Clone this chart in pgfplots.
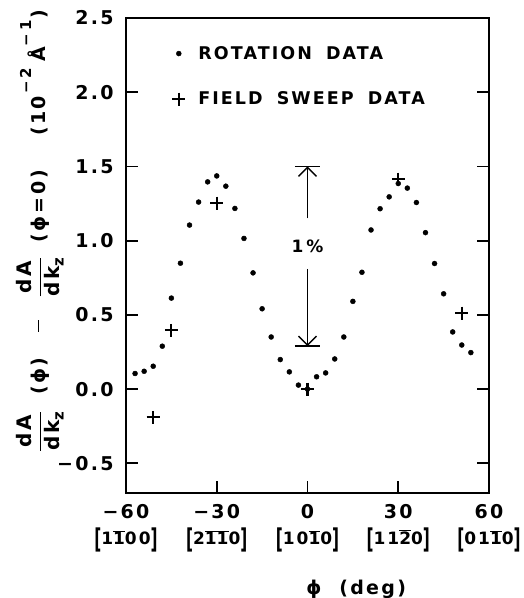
\documentclass[border=0pt]{standalone}
\usepackage{fontspec}
\setmainfont{DejaVu Sans}
\newfontfamily\lbl{DejaVu Sans}[LetterSpace=12]
\newfontfamily\lgd{DejaVu Sans}[LetterSpace=12]
\usepackage{graphicx}
\usepackage{pgfplots}
\pgfplotsset{compat=1.18}
\usetikzlibrary{arrows.meta}
\newcommand\ob[1]{\ensuremath{\overline{\hbox{#1}}}}
\newcommand\bk[1]{\raisebox{-0.25em}{\scalebox{0.9}[1.6]{#1}}}
\newcommand\mil[1]{{\fontsize{17bp}{20bp}\selectfont\bk{[}#1\bk{]}}}
\newcommand\dadk{\ensuremath{\displaystyle\frac{\hbox{\fontsize{20bp}{20bp}\selectfont dA}}{\hbox{\fontsize{20bp}{20bp}\selectfont dk\raisebox{-0.2em}{\fontsize{15bp}{15bp}\selectfont z}}}}}
\newcommand\sups[1]{\raisebox{0.75em}{\fontsize{15bp}{15bp}\selectfont #1}}
\begin{document}
\begin{tikzpicture}
\begin{axis}[
  scale only axis,
  width=363bp, height=475bp,
  xmin=-60, xmax=60, ymin=-0.7, ymax=2.5,
  axis line style={line width=1.8bp},
  tick align=inside,
  major tick length=12bp,
  major tick style={line width=1.8bp, black},
  xtick pos=lower,
  xtick={-60,-30,0,30,60},
  xticklabels={
    {−60\\[2bp]\mil{1\ob{1}00}},
    {−30\\[2bp]\mil{2\ob{1}\ob{1}0}},
    {0\\[2bp]\mil{10\ob{1}0}},
    {30\\[2bp]\mil{11\ob{2}0}},
    {60\\[2bp]\mil{01\ob{1}0}}},
  xticklabel style={font=\lbl\bfseries\fontsize{19bp}{24bp}\selectfont, align=center, yshift=-8bp},
  ytick={-0.5,0,0.5,1,1.5,2,2.5},
  yticklabels={−0.5,0.0,0.5,1.0,1.5,2.0,2.5},
  yticklabel style={font=\lbl\bfseries\fontsize{19bp}{24bp}\selectfont, xshift=-9bp},
  legend style={at={(rel axis cs:0.127,0.945)}, anchor=north west, draw=none, fill=none,
    font=\lgd\bfseries\fontsize{17.5bp}{20bp}\selectfont, row sep=27bp, inner sep=0pt,
    /tikz/every odd column/.append style={column sep=11bp}},
  legend cell align=left,
  clip=false,
]
\addplot[only marks, mark=*, mark size=2.5bp, black] coordinates {
(-57,0.105) (-54,0.12) (-51,0.154) (-48,0.289) (-45,0.613) (-42,0.848)
(-39,1.105) (-36,1.26) (-33,1.396) (-30,1.436) (-27,1.367) (-24,1.217)
(-21,1.015) (-18,0.783) (-15,0.541) (-12,0.351) (-9,0.199) (-6,0.116)
(-3,0.027) (0,0) (3,0.083) (6,0.109) (9,0.203) (12,0.351) (15,0.591)
(18,0.787) (21,1.072) (24,1.215) (27,1.295) (30,1.385) (33,1.354)
(36,1.257) (39,1.054) (42,0.846) (45,0.642) (48,0.385) (51,0.297) (54,0.246)
};
\addplot[only marks, mark=+, mark size=6.5bp, line width=2.1bp, black] coordinates {
(-51,-0.19) (-45,0.396) (-30,1.253) (0,0) (30,1.414) (51,0.512)
};
\legend{ROTATION\hspace{14bp}DATA, FIELD\hspace{14bp}SWEEP\hspace{14bp}DATA}
\draw[line width=1.6bp] (axis cs:-4.2,1.5) -- (axis cs:4.2,1.5);
\draw[line width=1.6bp] (axis cs:-4.2,0.29) -- (axis cs:4.2,0.29);
\draw[line width=1.4bp, -{Straight Barb[length=9bp,width=18bp,line width=1.4bp]}] (axis cs:0,1.15) -- (axis cs:0,1.5);
\draw[line width=1.4bp, -{Straight Barb[length=9bp,width=18bp,line width=1.4bp]}] (axis cs:0,0.81) -- (axis cs:0,0.29);
\node[font=\lgd\bfseries\fontsize{17bp}{20bp}\selectfont] at (axis cs:0,0.96) {1\,\%};
\coordinate (O) at (rel axis cs:0,0);
\node[anchor=west, font=\lgd\bfseries\fontsize{19bp}{22bp}\selectfont] at ([yshift=-96bp]axis cs:-1.5,-0.7) {ϕ\ \ (deg)};
\node[rotate=90, font=\lgd\bfseries\fontsize{19bp}{20bp}\selectfont] at ([xshift=-86bp]rel axis cs:0,0.552)
  {\dadk\hspace{16bp}(ϕ)\hspace{26bp}\raisebox{0.32em}{\rule{12bp}{1.8bp}}\hspace{22bp}\dadk\hspace{14bp}(ϕ\,=\,0)\hspace{34bp}(10\hspace{3bp}\sups{−\,2}\hspace{6bp}Å\hspace{1bp}\sups{−\,1}\hspace{2bp})};
\end{axis}
\pgfresetboundingbox
\path[use as bounding box] ([shift={(-126bp,-105bp)}]O) rectangle ++(524bp,598bp);
\end{tikzpicture}
\end{document}
